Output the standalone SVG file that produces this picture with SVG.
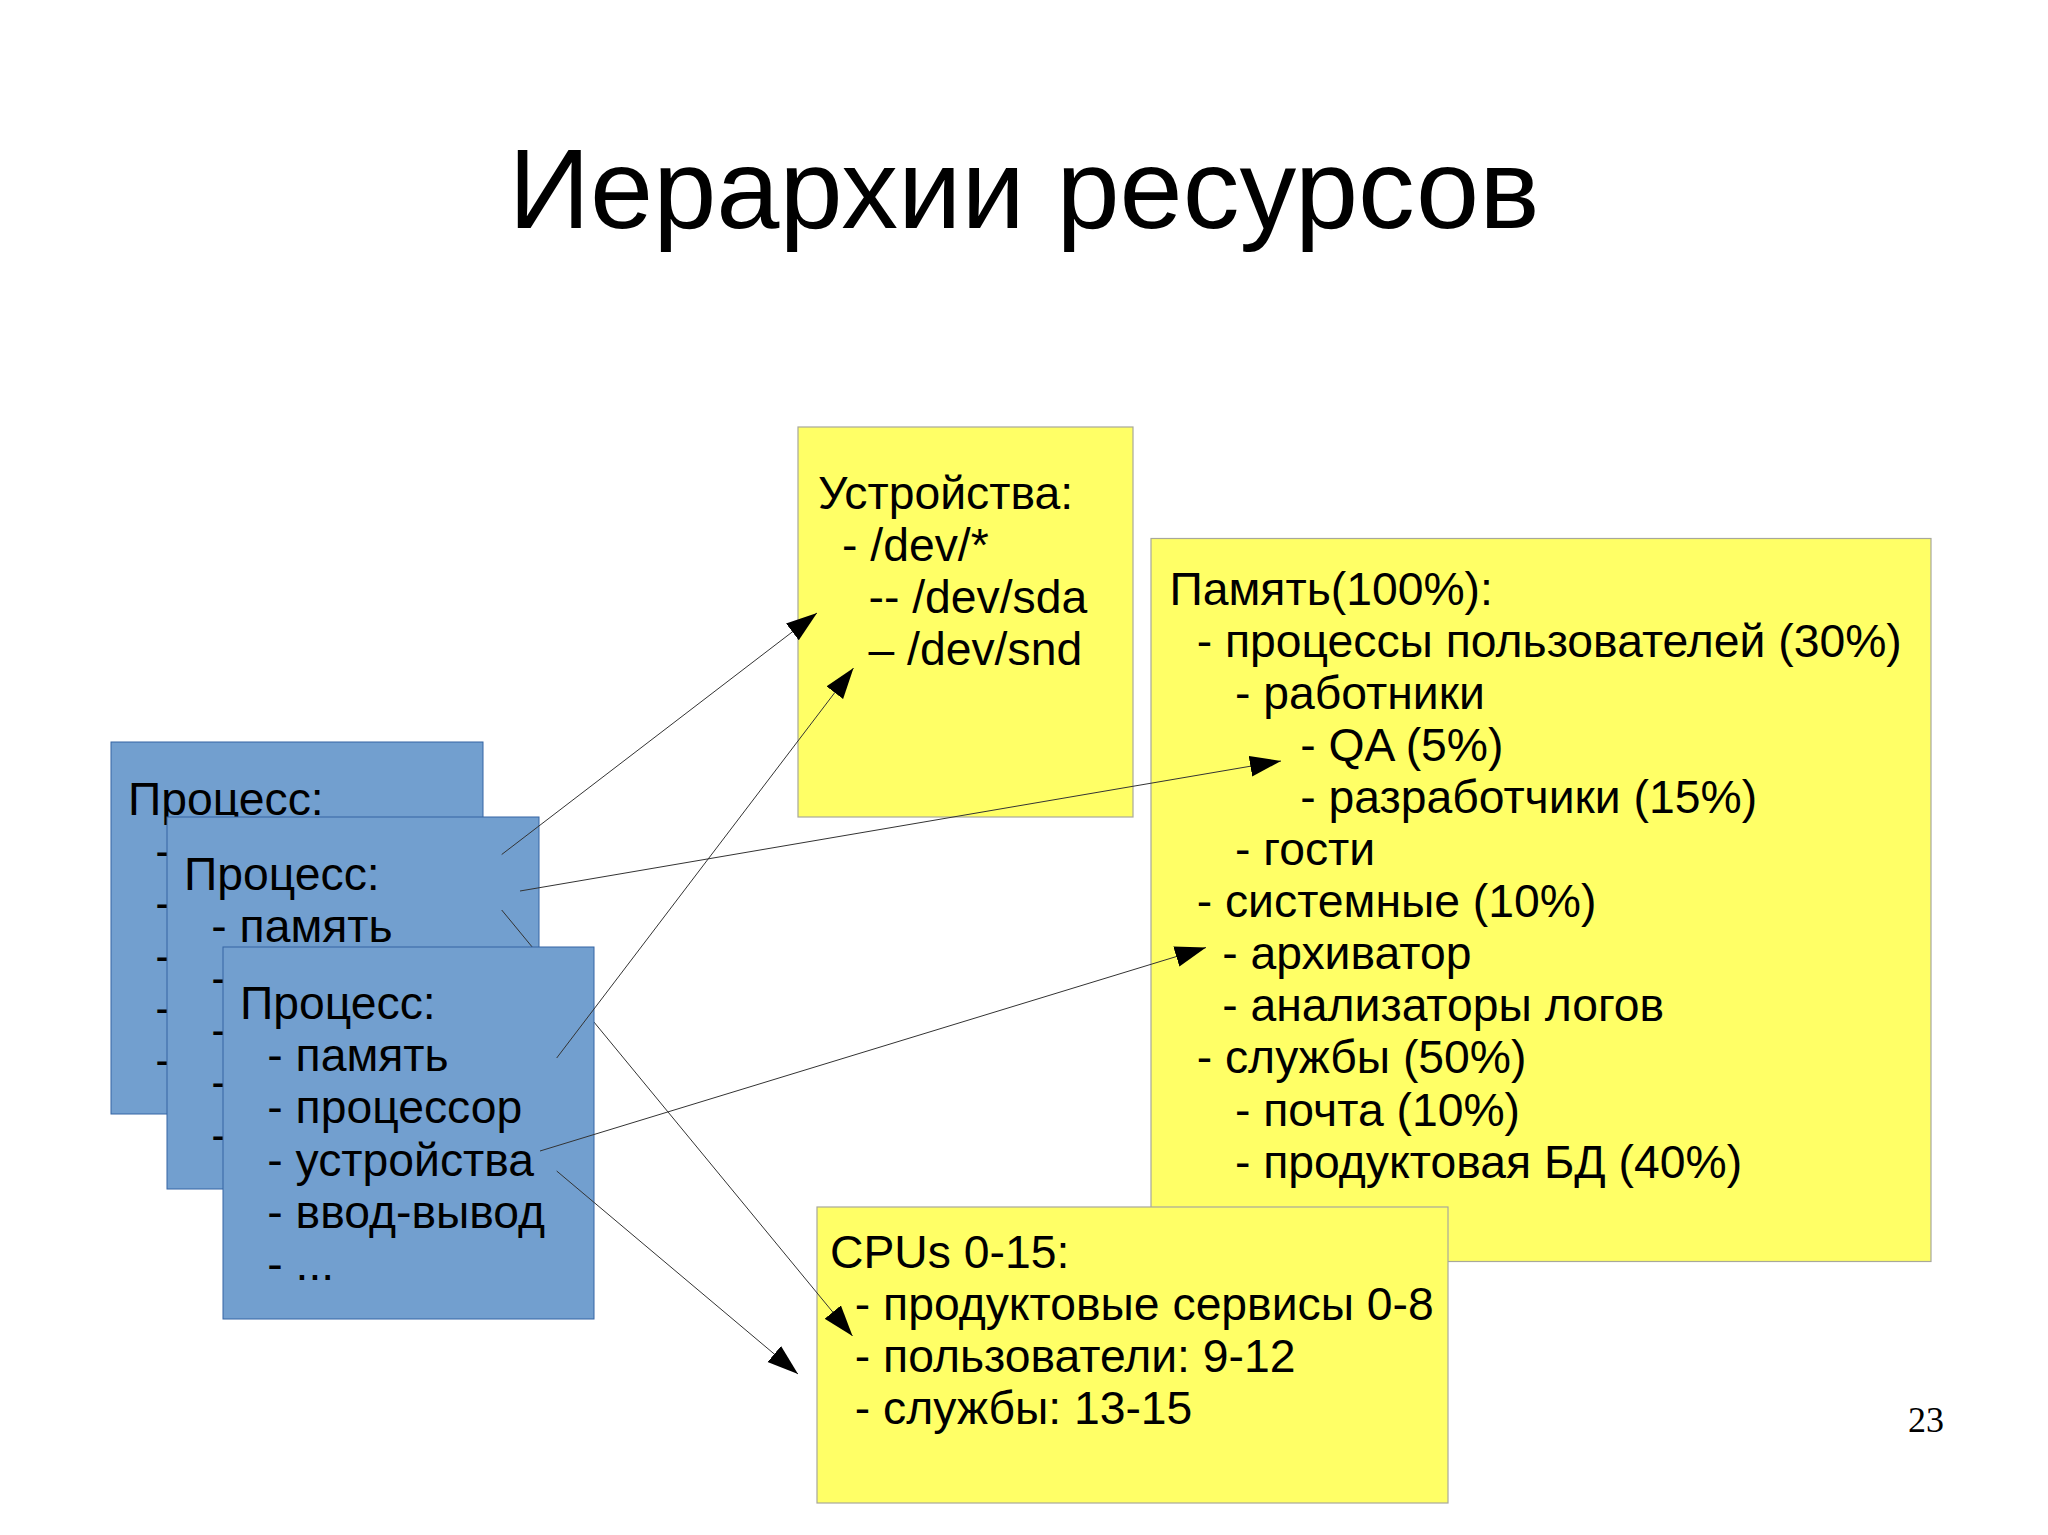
<svg xmlns="http://www.w3.org/2000/svg" width="2048" height="1535" viewBox="0 0 2048 1535">
<defs>
<style>
.t{font-family:"Liberation Sans",Arial,sans-serif;font-size:46.3px;fill:#000}
.title{font-family:"Liberation Sans",Arial,sans-serif;font-size:113.5px;fill:#000}
.pg{font-family:"Liberation Serif","Times New Roman",serif;font-size:36px;fill:#000}
.blue{fill:#729fcf;stroke:#3465a4;stroke-width:1}
.yel{fill:#ffff66;stroke:#a8a89a;stroke-width:1.2}
.con{fill:none;stroke:#333;stroke-width:1;marker-end:url(#ah)}
</style>
<marker id="ah" markerUnits="userSpaceOnUse" markerWidth="32" markerHeight="22" refX="31" refY="10.5" orient="auto" viewBox="0 0 32 22"><path d="M0,0 L31,10.5 L0,21 Z" fill="#000"/></marker>
</defs>
<rect width="2048" height="1535" fill="#fff"/>
<text id="title" class="title" x="1024" y="228" text-anchor="middle">Иерархии ресурсов</text>
<text id="page" class="pg" x="1908" y="1432">23</text>

<g id="devices">
<rect class="yel" x="798" y="427" width="335" height="390"/>
<text class="t" x="818" y="508.5">Устройства:</text>
<text class="t" x="842" y="560.7">- /dev/*</text>
<text class="t" x="868.5" y="612.9">-- /dev/sda</text>
<text class="t" x="868.5" y="665.1">– /dev/snd</text>
</g>

<g id="memory">
<rect class="yel" x="1151" y="538.5" width="780" height="723"/>
<text class="t" x="1169.5" y="604.5">Память(100%):</text>
<text class="t" x="1196.7" y="656.6">- процессы пользователей (30%)</text>
<text class="t" x="1235" y="708.7">- работники</text>
<text class="t" x="1300.2" y="760.8">- QA (5%)</text>
<text class="t" x="1300.2" y="812.9">- разработчики (15%)</text>
<text class="t" x="1235" y="865">- гости</text>
<text class="t" x="1196.7" y="917.1">- системные (10%)</text>
<text class="t" x="1222.2" y="969.2">- архиватор</text>
<text class="t" x="1222.2" y="1021.3">- анализаторы логов</text>
<text class="t" x="1196.7" y="1073.4">- службы (50%)</text>
<text class="t" x="1235" y="1125.5">- почта (10%)</text>
<text class="t" x="1235" y="1177.6">- продуктовая БД (40%)</text>
</g>

<g id="cpus">
<rect class="yel" x="817" y="1207" width="631" height="296"/>
<text class="t" x="830" y="1267.5">CPUs 0-15:</text>
<text class="t" x="854.8" y="1319.5">- продуктовые сервисы 0-8</text>
<text class="t" x="854.8" y="1371.5">- пользователи: 9-12</text>
<text class="t" x="854.8" y="1423.5">- службы: 13-15</text>
</g>

<g id="process1">
<rect class="blue" x="111" y="742" width="372" height="372"/>
<text class="t" x="128" y="815">Процесс:</text>
<text class="t" x="155.3" y="867.2">-</text>
<text class="t" x="155.3" y="919.4">-</text>
<text class="t" x="155.3" y="971.6">-</text>
<text class="t" x="155.3" y="1023.8">-</text>
<text class="t" x="155.3" y="1076">-</text>
</g>

<g id="process2">
<rect class="blue" x="167" y="817" width="372" height="372"/>
<text class="t" x="184" y="889.5">Процесс:</text>
<text class="t" x="211.3" y="941.7">- память</text>
<text class="t" x="211.3" y="993.9">-</text>
<text class="t" x="211.3" y="1046.1">-</text>
<text class="t" x="211.3" y="1098.3">-</text>
<text class="t" x="211.3" y="1150.5">-</text>
</g>

<g id="connectors-back">
<line class="con" x1="501.7" y1="854.5" x2="817" y2="613"/>
<line class="con" x1="520" y1="891" x2="1281" y2="761"/>
<line class="con" x1="501.7" y1="910" x2="852.5" y2="1336"/>
</g>

<g id="process3">
<rect class="blue" x="223" y="947" width="371" height="372"/>
<text class="t" x="240" y="1019">Процесс:</text>
<text class="t" x="267.3" y="1071.2">- память</text>
<text class="t" x="267.3" y="1123.4">- процессор</text>
<text class="t" x="267.3" y="1175.6">- устройства</text>
<text class="t" x="267.3" y="1227.8">- ввод-вывод</text>
<text class="t" x="267.3" y="1280">- ...</text>
</g>

<g id="connectors-front">
<line class="con" x1="556.7" y1="1058" x2="853.5" y2="668"/>
<line class="con" x1="540" y1="1151" x2="1206" y2="947.5"/>
<line class="con" x1="556.7" y1="1171" x2="798" y2="1374"/>
</g>
</svg>
